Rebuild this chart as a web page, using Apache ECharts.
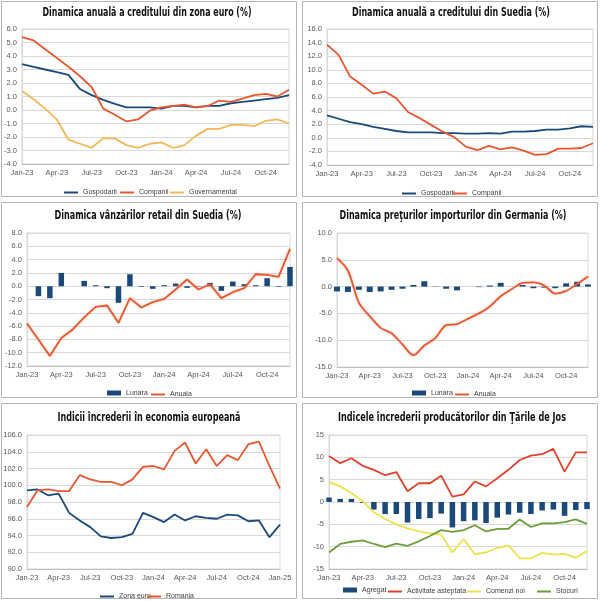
<!DOCTYPE html>
<html><head><meta charset="utf-8">
<script src="https://cdn.jsdelivr.net/npm/echarts@6/dist/echarts.min.js"></script>
<style>html,body{margin:0;padding:0;background:#fff}#c{width:600px;height:601px}</style>
</head><body><div id="c"></div>
<script>
// ---------- categories ----------
const months24 = ['Jan-23','Feb-23','Mar-23','Apr-23','May-23','Jun-23','Jul-23','Aug-23','Sep-23','Oct-23','Nov-23','Dec-23',
                  'Jan-24','Feb-24','Mar-24','Apr-24','May-24','Jun-24','Jul-24','Aug-24','Sep-24','Oct-24','Nov-24','Dec-24'];
const months25 = months24.concat(['Jan-25']);

// ---------- panel 1: credit euro area ----------
const ezGospodarii = [3.4,3.2,3.0,2.8,2.6,1.55,1.1,0.75,0.45,0.2,0.2,0.2,0.1,0.3,0.3,0.2,0.3,0.3,0.5,0.6,0.7,0.8,0.9,1.1];
const ezCompanii   = [5.4,5.15,4.5,3.85,3.2,2.5,1.7,0.1,-0.35,-0.85,-0.7,-0.05,0.2,0.3,0.4,0.2,0.3,0.7,0.6,0.85,1.1,1.2,1.0,1.5];
const ezGuvern     = [1.4,0.8,0.1,-0.7,-2.2,-2.5,-2.8,-2.1,-2.1,-2.6,-2.8,-2.5,-2.4,-2.8,-2.6,-1.9,-1.4,-1.4,-1.1,-1.1,-1.2,-0.8,-0.7,-1.0];

// ---------- panel 2: credit Sweden ----------
const seGospodarii = [3.3,2.8,2.3,2.0,1.6,1.3,1.0,0.8,0.8,0.8,0.7,0.7,0.6,0.6,0.7,0.6,0.9,0.9,1.0,1.2,1.2,1.4,1.7,1.6];
const seCompanii   = [13.7,12.2,9.0,7.8,6.5,6.8,5.8,3.8,2.9,1.9,0.9,0.1,-1.3,-1.8,-1.2,-1.7,-1.4,-1.9,-2.5,-2.4,-1.6,-1.6,-1.5,-0.8];

// ---------- panel 3: retail sales Sweden ----------
const rtLunara = [null,-1.5,-1.8,2.0,0.0,0.8,0.15,-0.3,-2.5,1.8,-0.1,-0.4,0.15,0.4,-0.25,0.05,0.5,-0.7,0.7,0.3,0.15,1.2,-0.1,2.9];
const rtAnuala = [-5.6,-8.0,-10.5,-7.8,-6.5,-4.7,-3.1,-2.9,-5.5,-1.8,-3.2,-2.4,-1.9,-0.5,1.0,-0.5,0.3,-1.8,-0.9,-0.3,1.8,1.7,1.4,5.6];

// ---------- panel 4: import prices Germany ----------
const ipLunara = [-0.9,-1.0,-0.6,-1.0,-0.9,-0.6,-0.4,0.3,1.0,0.05,-0.4,-0.7,0.0,-0.1,0.2,0.7,0.0,0.3,-0.3,-0.2,-0.3,0.6,0.9,0.4];
const ipAnuala = [5.3,3.0,-3.0,-5.5,-7.7,-8.7,-10.8,-12.8,-11.0,-9.6,-7.2,-7.0,-6.0,-5.0,-3.7,-1.8,-0.5,0.7,0.8,0.2,-1.3,-0.8,0.5,1.9];

// ---------- panel 5: economic sentiment ----------
const esZonaEuro = [99.4,99.5,98.8,99.0,96.7,95.8,95.0,93.9,93.7,93.8,94.2,96.7,96.2,95.6,96.5,95.8,96.3,96.1,96.0,96.5,96.4,95.7,95.8,93.8,95.3];
const esRomania  = [97.4,99.4,99.5,99.3,99.3,101.2,100.7,100.4,100.4,100.0,100.7,102.2,102.3,101.9,104.1,105.1,102.6,104.3,102.3,103.6,103.0,104.9,105.2,102.3,99.6];

// ---------- panel 6: producer confidence Netherlands ----------
const nlAgregat    = [1.0,0.7,0.7,-0.2,-1.7,-2.7,-2.7,-4.6,-3.8,-3.6,-2.6,-5.7,-4.3,-4.1,-4.7,-3.5,-2.8,-2.4,-2.7,-1.9,-1.7,-3.1,-1.8,-1.6];
const nlActivitate = [10.3,8.7,9.8,8.1,7.2,6.0,6.7,2.4,4.2,4.2,5.9,1.2,1.7,4.6,3.5,5.3,7.2,9.4,10.4,10.7,11.9,6.8,11.1,11.1];
const nlComenzi    = [4.5,3.5,2.0,0.2,-2.3,-3.8,-5.0,-5.9,-6.6,-7.0,-7.3,-11.3,-8.3,-11.7,-11.3,-10.3,-9.7,-12.6,-12.6,-11.4,-11.8,-11.6,-12.5,-11.0];
const nlStocuri    = [-11.3,-9.4,-8.9,-8.6,-9.4,-10.1,-9.3,-9.8,-8.8,-7.6,-6.3,-6.7,-6.3,-5.2,-6.6,-6.0,-6.0,-3.9,-5.6,-4.8,-4.8,-4.5,-3.9,-4.9];

// ---------- titles ----------
const titles = [
  'Dinamica anuală a creditului din zona euro (%)',
  'Dinamica anuală a creditului din Suedia (%)',
  'Dinamica vânzărilor retail din Suedia (%)',
  'Dinamica preţurilor importurilor din Germania (%)',
  'Indicii încrederii în economia europeană',
  'Indicele încrederii producătorilor din Ţările de Jos'
];

// ---------- colours ----------
const NAVY = '#1B4A7A', RED = '#E8572F', GOLD = '#F5B757', RED2 = '#E0432B', YEL = '#EEE24C', GRN = '#6E9E3A';
const FONT = '"Liberation Sans", Arial, sans-serif';
const TFONT = 'bold 13px "DejaVu Sans Condensed", "DejaVu Sans", sans-serif';

// layout (pixel boxes)
const grids = [
  {left:22,  top:29,  width:267, height:135},
  {left:327, top:29,  width:266, height:136},
  {left:27,  top:233, width:263, height:133},
  {left:337, top:233, width:251, height:134},
  {left:27,  top:435, width:253, height:134},
  {left:329, top:435, width:258, height:134}
];
const yScales = [
  {min:-4, max:6, interval:1, dec:1},
  {min:-4, max:16, interval:2, dec:1},
  {min:-12, max:8, interval:2, dec:1},
  {min:-15, max:10, interval:5, dec:1},
  {min:90, max:106, interval:2, dec:1},
  {min:-15, max:15, interval:5, dec:0}
];
const titlePos = [[147,13,209],[451,13,198],[148,216,187],[453,216,227],[149,418,183],[452,418,228]];
const panelBoxes = [[1.5,1.5],[302.5,1.5],[1.5,202.5],[302.5,202.5],[1.5,403.5],[302.5,403.5]];
const xCats = [months24, months24, months24, months24, months25, months24];

// legend entries: [series name, icon left x, centre y, is bar]
const legendItems = [
  ['Gospodarii',64,190,false],['Companii',120,190,false],['Guvernamental',170,190,false],
  ['Gospodarii ',402,191,false],['Companii ',453,191,false],
  ['Lunara',107,392,true],['Anuala',151,392,false],
  ['Lunara ',412,392,true],['Anuala ',455,392,false],
  ['Zona euro',100,594,false],['Romania',147,594,false],
  ['Agregat',343,589,true],['Activitate asteptata',388,589,false],['Comenzi noi',467,589,false],['Stocuri',537,589,false]
];

const option = {
  animation:false,
  backgroundColor:'#fff',
  grid: grids.map(g => Object.assign({show:true, borderColor:'#D9D9D9', borderWidth:1, backgroundColor:'transparent'}, g)),
  xAxis: xCats.map((cats,i) => ({
    type:'category', gridIndex:i, data:cats, boundaryGap:false,
    axisLine:{show:true, onZero:false, lineStyle:{color:'#BFBFBF'}},
    axisTick:{show:false},
    axisLabel:{interval:2, color:'#595959', fontSize:7.5, fontFamily:FONT, margin:5},
    splitLine:{show:false}
  })),
  yAxis: yScales.map((s,i) => ({
    type:'value', gridIndex:i, min:s.min, max:s.max, interval:s.interval,
    axisLine:{show:true, lineStyle:{color:'#D9D9D9'}},
    axisTick:{show:false},
    axisLabel:{color:'#595959', fontSize:7.5, fontFamily:FONT, margin:5, formatter: v => v.toFixed(s.dec)},
    splitLine:{show:true, lineStyle:{color:'#D9D9D9', width:1}}
  })),
  legend: legendItems.map(it => {
    const h = it[3] ? 5 : 2;
    return {
      left:it[1], top:it[2]-h/2, itemWidth:14, itemHeight:h, padding:0, icon:'rect',
      selectedMode:false, data:[it[0]],
      textStyle:{fontSize:7, color:'#404040', fontFamily:FONT}
    };
  }),
  series: [],
  graphic: []
};

function line(name, data, idx, color, extra) {
  return Object.assign({
    type:'line', name, data, xAxisIndex:idx, yAxisIndex:idx,
    symbol:'none', lineStyle:{color, width:1.8}, itemStyle:{color}
  }, extra || {});
}
function bar(name, data, idx, color, w) {
  return {type:'bar', name, data, xAxisIndex:idx, yAxisIndex:idx, barWidth:w, clip:false,
          itemStyle:{color}};
}
const glow = c => ({lineStyle:{color:c, width:1.8, shadowColor:'rgba(240,150,120,0.55)', shadowBlur:3}});

option.series.push(
  line('Gospodarii', ezGospodarii, 0, NAVY),
  line('Companii', ezCompanii, 0, RED),
  line('Guvernamental', ezGuvern, 0, GOLD),
  line('Gospodarii ', seGospodarii, 1, NAVY),
  line('Companii ', seCompanii, 1, RED),
  bar('Lunara', rtLunara, 2, NAVY, 5.5),
  line('Anuala', rtAnuala, 2, RED, glow(RED)),
  bar('Lunara ', ipLunara, 3, NAVY, 6),
  line('Anuala ', ipAnuala, 3, RED, Object.assign({smooth:0.3}, glow(RED))),
  line('Zona euro', esZonaEuro, 4, NAVY),
  line('Romania', esRomania, 4, RED),
  bar('Agregat', nlAgregat, 5, NAVY, 5.5),
  line('Activitate asteptata', nlActivitate, 5, RED2),
  line('Comenzi noi', nlComenzi, 5, YEL),
  line('Stocuri', nlStocuri, 5, GRN)
);

panelBoxes.forEach(b => option.graphic.push({
  type:'rect', silent:true, z:-10,
  shape:{x:b[0], y:b[1], width:295, height:195},
  style:{fill:'none', stroke:'#B4B4B4', lineWidth:1}
}));

// titles, horizontally condensed to the reference width
const mctx = document.createElement('canvas').getContext('2d');
mctx.font = TFONT;
titles.forEach((t,i) => {
  const w = mctx.measureText(t).width;
  const sx = Math.min(1, titlePos[i][2] / w);
  option.graphic.push({
    type:'text', silent:true, x:titlePos[i][0], y:titlePos[i][1], scaleX:sx,
    style:{text:t, fill:'#111', font:TFONT, textAlign:'center', textVerticalAlign:'middle'}
  });
});

const chart = echarts.init(document.getElementById('c'), null, {renderer:'canvas'});
chart.setOption(option);
</script>
</body></html>
